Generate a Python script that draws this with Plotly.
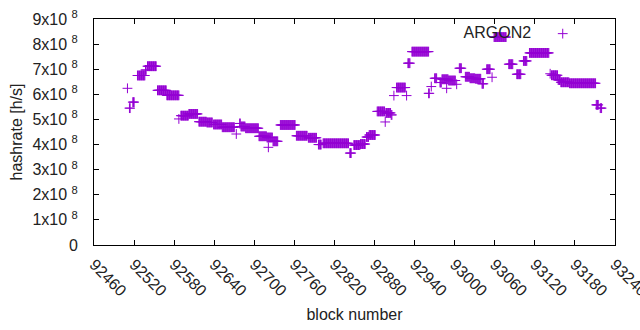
import plotly.graph_objects as go

# Runs of consecutive blocks sharing the same hashrate reading
run_start = [92510, 92513, 92518, 92525, 92537, 92540, 92555, 92569, 92587, 92590,
             92602, 92617, 92629, 92639, 92652, 92673, 92678, 92680, 92687, 92707,
             92719, 92721, 92728, 92739, 92763, 92781, 92796, 92803, 92843, 92849,
             92859, 92868, 92872, 92884, 92896, 92897, 92905, 92909, 92913, 92928,
             92930, 92936, 92961, 92965, 92970, 92978, 92981, 92988, 92991, 93003,
             93007, 93016, 93023, 93031, 93041, 93048, 93056, 93059, 93081, 93093,
             93103, 93112, 93143, 93145, 93155, 93159, 93172, 93212, 93218]
run_end = [92510, 92514, 92520, 92536, 92538, 92553, 92568, 92587, 92587, 92601,
           92615, 92628, 92637, 92651, 92670, 92673, 92679, 92686, 92706, 92718,
           92727, 92721, 92735, 92761, 92779, 92793, 92800, 92841, 92845, 92858,
           92866, 92871, 92881, 92895, 92896, 92904, 92906, 92909, 92926, 92928,
           92933, 92961, 92962, 92965, 92973, 92980, 92990, 92988, 93001, 93003,
           93010, 93022, 93030, 93039, 93043, 93053, 93056, 93077, 93087, 93099,
           93108, 93141, 93143, 93154, 93158, 93171, 93211, 93215, 93220]
run_value = [6.24, 5.45, 5.69, 6.75, 6.97, 7.12, 6.16, 5.96, 5.02, 5.15,
             5.22, 4.91, 4.88, 4.80, 4.69, 4.42, 4.84, 4.72, 4.65, 4.33,
             4.28, 3.89, 4.13, 4.78, 4.35, 4.27, 4.00, 4.05, 3.66, 3.98,
             4.02, 4.30, 4.38, 5.32, 4.90, 5.26, 5.18, 5.95, 6.27, 5.95,
             7.24, 7.70, 6.04, 6.31, 6.64, 6.47, 6.60, 6.24, 6.55, 6.40,
             7.04, 6.70, 6.64, 6.62, 6.42, 7.00, 6.68, 8.28, 7.20, 6.80,
             7.33, 7.65, 6.82, 6.76, 6.57, 6.48, 6.44, 5.58, 5.45]  # x 1e8 h/s

x_ticks = [92460, 92520, 92580, 92640, 92700, 92760, 92820, 92880, 92940,
           93000, 93060, 93120, 93180, 93240]
y_tickvals = [0, 1e8, 2e8, 3e8, 4e8, 5e8, 6e8, 7e8, 8e8, 9e8]
y_ticktext = ["0"] + [f"{i}x10 <sup>8</sup>" for i in range(1, 10)]

blocks, rates = [], []
for s, e, v in zip(run_start, run_end, run_value):
    for b in range(s, e + 1):
        blocks.append(b)
        rates.append(v * 1e8)

FONT = "Liberation Sans, Arial, sans-serif"
COLOR = "#9400d3"
TXT = "#222"

fig = go.Figure()
fig.add_trace(go.Scatter(
    x=blocks, y=rates, mode="markers", name="",
    marker=dict(symbol="cross-thin", size=7, line=dict(width=1, color=COLOR), color=COLOR),
    showlegend=True,
))

axis_common = dict(
    showline=True, linecolor="black", linewidth=1, mirror="ticks",
    ticks="inside", ticklen=5, tickcolor="black", tickwidth=1,
    showgrid=False, zeroline=False, automargin=False,
    tickfont=dict(family=FONT, size=16, color=TXT),
)

fig.update_xaxes(
    range=[92459.9, 93240.1], tickvals=x_ticks, ticktext=[str(t) for t in x_ticks],
    tickangle=45, ticklabelstandoff=3, ticklabeloverflow="allow",
    title=dict(text="block number", font=dict(family=FONT, size=16, color=TXT), standoff=10),
    **axis_common,
)
fig.update_yaxes(
    range=[0, 9e8], tickvals=y_tickvals, ticktext=y_ticktext, ticklabelstandoff=12,
    title=dict(text="hashrate [h/s]", font=dict(family=FONT, size=16, color=TXT), standoff=5),
    **axis_common,
)

fig.update_layout(
    width=640, height=330,
    margin=dict(l=94, r=25, t=19, b=85),
    paper_bgcolor="white", plot_bgcolor="white",
    font=dict(family=FONT, size=16, color=TXT),
    legend=dict(
        x=0.955, y=1.01, xanchor="right", yanchor="top",
        bgcolor="rgba(0,0,0,0)", borderwidth=0,
        title=dict(text="ARGON2", side="left", font=dict(family=FONT, size=16, color=TXT)),
        itemwidth=37,
    ),
)

fig.write_html("out.html", config={"displayModeBar": False},
               post_script="document.body.style.margin='0';")
